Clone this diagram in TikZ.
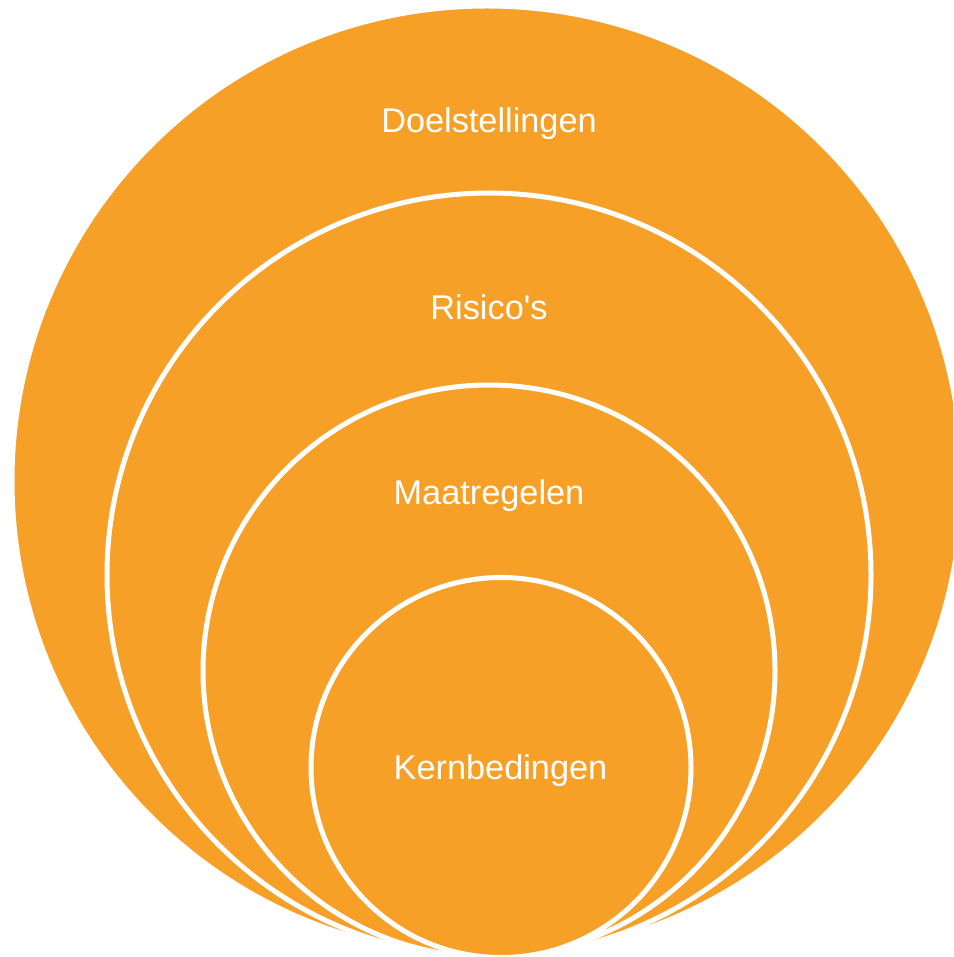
\documentclass[tikz,border=0pt]{standalone}
\usepackage{fontspec}
\setmainfont{Liberation Sans}
\usetikzlibrary{calc}
\definecolor{ringorange}{HTML}{F7A028}

\begin{document}
\begin{tikzpicture}[x=1pt, y=-1pt,
  ring/.style={fill=ringorange, draw=white, line width=5pt},
  ringtext/.style={text=white, font=\fontsize{34.3}{40}\selectfont, anchor=base, inner sep=0pt}]
\coordinate (O) at (0,0);
\useasboundingbox (O) rectangle (953,957);
\clip (O) rectangle (953,957);
\foreach \cx/\cy/\r/\tx/\ty/\name/\txt in {487/481/475/489/132.5/doel/Doelstellingen,
  489/575/382/489/319.5/risico/Risico\textquotesingle s,
  489/671/286/489/504.5/maat/Maatregelen,
  501/767.5/190/500.5/779.5/kern/Kernbedingen} {
 \draw[ring] (\cx,\cy) circle[radius=\r];
 \node[ringtext] (\name) at (\tx,\ty) {\txt};
}
\end{tikzpicture}
\end{document}
